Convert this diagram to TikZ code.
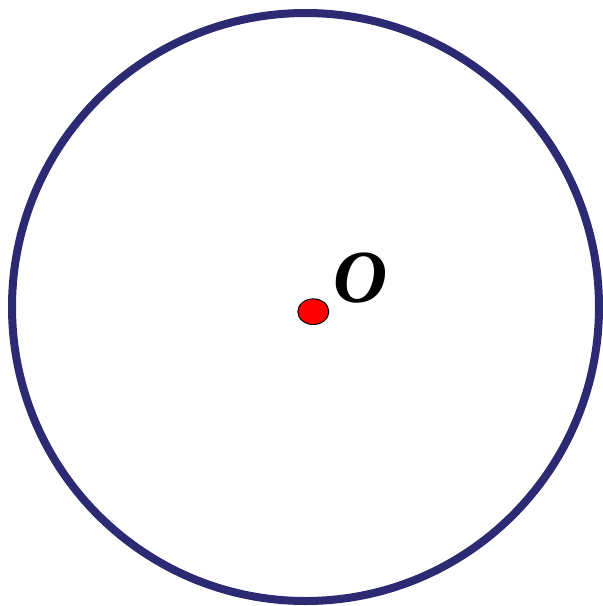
\documentclass[tikz,border=0pt]{standalone}
\usepackage{fontspec}
\setmainfont{Liberation Serif}
\definecolor{rimblue}{HTML}{2B2A72}
\begin{document}
\begin{tikzpicture}[x=1pt,y=-1pt,
  rim/.style={draw=rimblue,line width=8pt},
  dot/.style={draw=black,fill=red,line width=1pt}]
\useasboundingbox (0,0) rectangle (603,606);
\draw[rim] (305.5,307) ellipse[x radius=293.5,y radius=294];
\draw[dot] (313.3,311.7) ellipse[x radius=15.5,y radius=12.8];
\node[inner sep=0pt,font=\bfseries\itshape\fontsize{75}{75}\selectfont] (o) at (361,278) {O};
\end{tikzpicture}
\end{document}
